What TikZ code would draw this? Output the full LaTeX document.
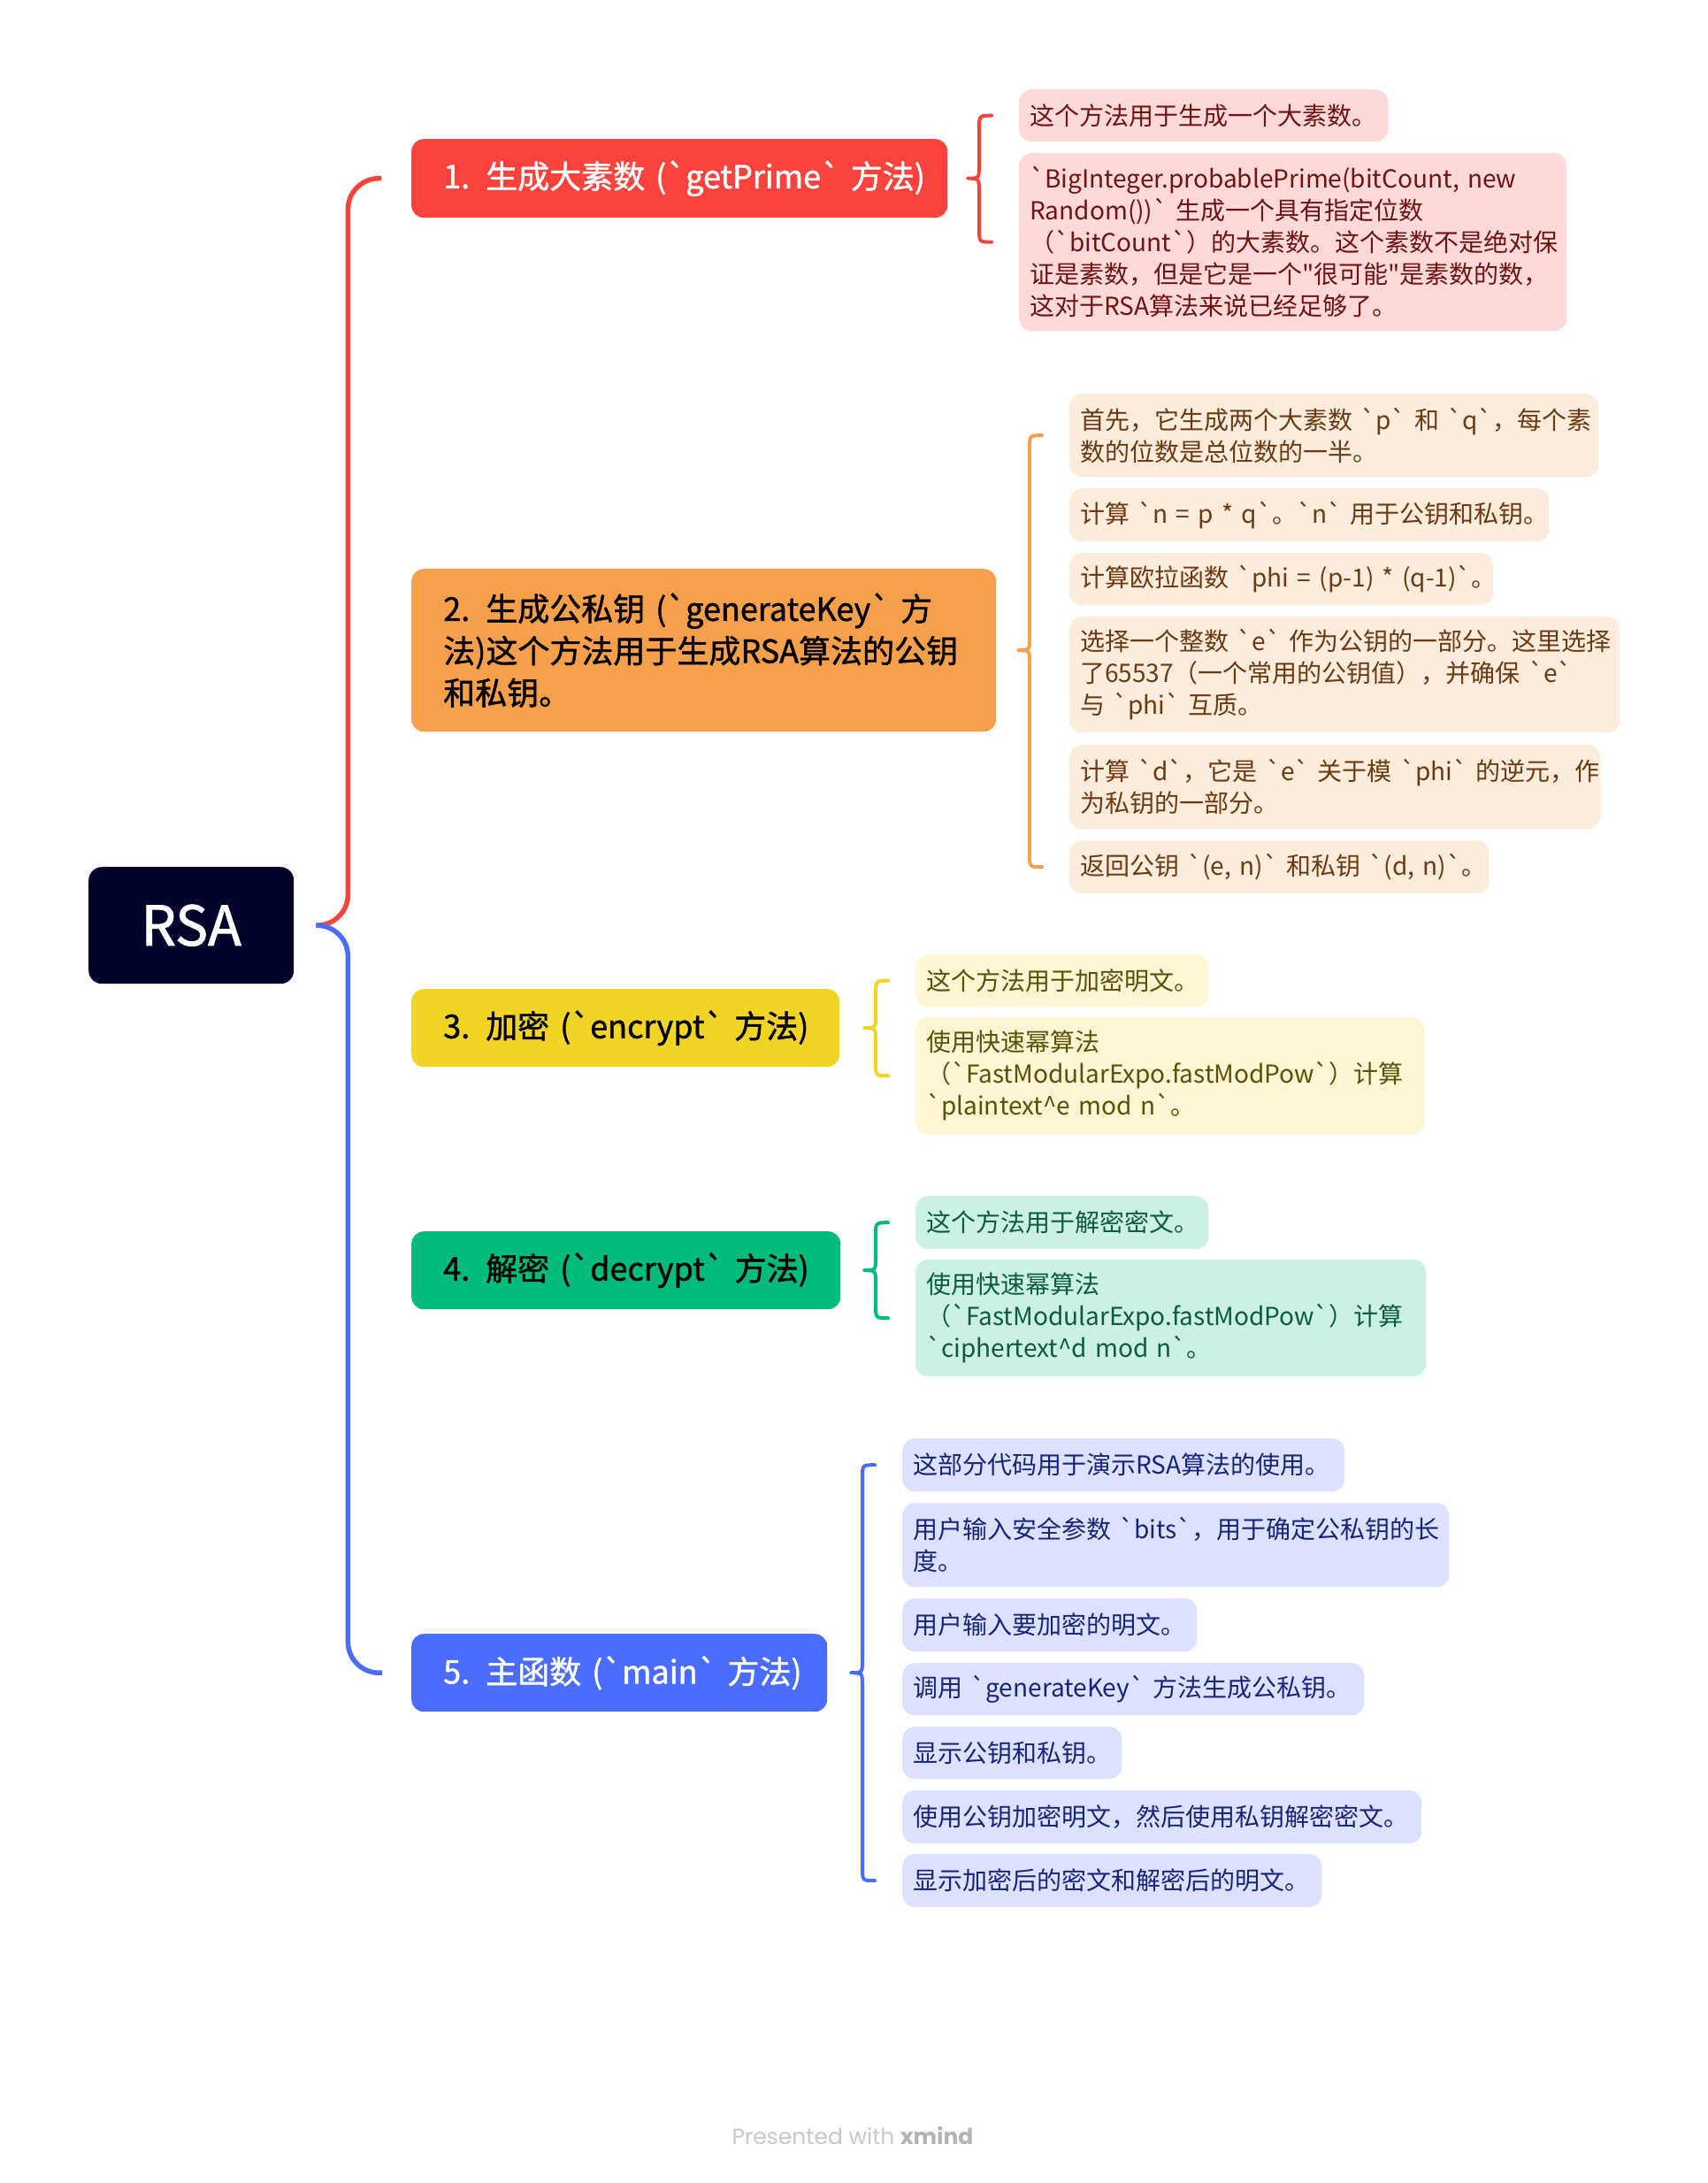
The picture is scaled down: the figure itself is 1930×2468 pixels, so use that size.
\documentclass[tikz,border=0pt]{standalone}
\usepackage{fontspec}
\usetikzlibrary{calc}
\newfontfamily\footfont{Poppins}
\font\fRoot="Noto Sans CJK SC:embolden=1.5" at 62pt
\font\fMain="Noto Sans CJK SC:embolden=1.3" at 36pt
\font\fChild="Noto Sans CJK SC" at 28pt
\fontdimen2\fMain=6.5pt
\definecolor{cRoot}{HTML}{000229}
\definecolor{cRed}{HTML}{FA433C}
\definecolor{cOrange}{HTML}{F7A04C}
\definecolor{cYellow}{HTML}{F2D424}
\definecolor{cGreen}{HTML}{00BB7A}
\definecolor{cBlue}{HTML}{4A6CFF}
\definecolor{fRedL}{HTML}{FFD9D9}
\definecolor{fOrangeL}{HTML}{FDEBDB}
\definecolor{fYellowL}{HTML}{FCF6D3}
\definecolor{fGreenL}{HTML}{CCF1E4}
\definecolor{fBlueL}{HTML}{DBE1FE}
\definecolor{tRed}{HTML}{6E1410}
\definecolor{tOrange}{HTML}{6A3A12}
\definecolor{tYellow}{HTML}{5C4F0A}
\definecolor{tGreen}{HTML}{0A5C3F}
\definecolor{tBlue}{HTML}{16247A}
\definecolor{footA}{HTML}{C9C9C9}
\definecolor{footB}{HTML}{B3B3B3}
\newcommand\mybrace[4]{%
  \draw[bracestyle,#4] let \p1=(#2.west), \p2=(#3.west), \p3=(#1.east) in
    (\x1-31pt,\y1) .. controls (\x1-45pt,\y1) .. (\x1-45pt,\y1-15pt)
    -- (\x1-45pt,\y3+15pt) .. controls (\x1-45pt,\y3) .. (\x1-58pt,\y3)
    .. controls (\x1-45pt,\y3) .. (\x1-45pt,\y3-15pt)
    -- (\x1-45pt,\y2+15pt) .. controls (\x1-45pt,\y2) .. (\x1-31pt,\y2);
}
\newcommand\crt{\char"5E\relax}
\newcommand\one[1]{\mbox{#1}}
\begin{document}
\begin{tikzpicture}[x=1pt,y=-1pt,
  rootbox/.style={fill=cRoot, rounded corners=15pt, text=white, font=\fRoot,
    minimum width=232pt, minimum height=132pt, inner sep=0pt, anchor=north west},
  mainbox/.style={rounded corners=14pt, inner xsep=36pt, inner ysep=0pt, align=left,
    anchor=north west, font={\fMain\baselineskip=47.5pt}},
  childbox/.style={rounded corners=14pt, inner xsep=12pt, inner ysep=0pt, align=left,
    anchor=north west, font={\fChild\baselineskip=36pt}},
  conn/.style={line width=5.5pt, rounded corners=35pt},
  bracestyle/.style={line width=4pt, line cap=round, line join=round},
]
\fill[white] (0,0) rectangle (1930,2468);
\useasboundingbox (0,0) rectangle (1930,2468);

% root
\node[rootbox] (root) at (100,980) {RSA};

% main topics
\node[mainbox, fill=cRed, text=white, text width=534pt, minimum height=89pt] (n1) at (465,157)
  {\one{1. 生成大素数 (`getPrime` 方法)}};
\node[mainbox, fill=cOrange, text=black, text width=589pt, minimum height=184pt] (n2) at (465,643)
  {\one{2. 生成公私钥 (`generateKey` 方}\\\one{法)这个方法用于生成RSA算法的公钥}\\\one{和私钥。}};
\node[mainbox, fill=cYellow, text=black, text width=412pt, minimum height=88pt] (n3) at (465,1118)
  {\one{3. 加密 (`encrypt` 方法)}};
\node[mainbox, fill=cGreen, text=black, text width=413pt, minimum height=88pt] (n4) at (465,1392)
  {\one{4. 解密 (`decrypt` 方法)}};
\node[mainbox, fill=cBlue, text=white, text width=398pt, minimum height=88pt] (n5) at (465,1847)
  {\one{5. 主函数 (`main` 方法)}};

% group 1
\begin{scope}[every node/.append style={childbox, fill=fRedL, text=tRed}]
\node[text width=393pt, minimum height=59pt] (c1a) at (1152,101) {\one{这个方法用于生成一个大素数。}};
\node[text width=595pt, minimum height=201pt] (c1b) at (1152,173)
  {\one{`BigInteger.probablePrime(bitCount, new}\\\one{Random())` 生成一个具有指定位数}\\\one{（`bitCount`）的大素数。这个素数不是绝对保}\\\one{证是素数，但是它是一个"很可能"是素数的数，}\\\one{这对于RSA算法来说已经足够了。}};
\end{scope}

% group 2
\begin{scope}[every node/.append style={childbox, fill=fOrangeL, text=tOrange}]
\node[text width=574pt, minimum height=94pt] (c2a) at (1209,445)
  {\one{首先，它生成两个大素数 `p` 和 `q`，每个素}\\\one{数的位数是总位数的一半。}};
\node[text width=518pt, minimum height=60pt] (c2b) at (1209,552)
  {\one{计算 `n = p * q`。`n` 用于公钥和私钥。}};
\node[text width=455pt, minimum height=59pt] (c2c) at (1209,625)
  {\one{计算欧拉函数 `phi = (p-1) * (q-1)`。}};
\node[text width=598pt, minimum height=131pt] (c2d) at (1209,697)
  {\one{选择一个整数 `e` 作为公钥的一部分。这里选择}\\\one{了65537（一个常用的公钥值），并确保 `e`}\\\one{与 `phi` 互质。}};
\node[text width=576pt, minimum height=95pt] (c2e) at (1209,842)
  {\one{计算 `d`，它是 `e` 关于模 `phi` 的逆元，作}\\\one{为私钥的一部分。}};
\node[text width=450pt, minimum height=60pt] (c2f) at (1209,950)
  {\one{返回公钥 `(e, n)` 和私钥 `(d, n)`。}};
\end{scope}

% group 3
\begin{scope}[every node/.append style={childbox, fill=fYellowL, text=tYellow}]
\node[text width=307pt, minimum height=59pt] (c3a) at (1035,1079) {\one{这个方法用于加密明文。}};
\node[text width=551pt, minimum height=132pt] (c3b) at (1035,1150)
  {\one{使用快速幂算法}\\\one{（`FastModularExpo.fastModPow`）计算}\\\one{`plaintext\crt e mod n`。}};
\end{scope}

% group 4
\begin{scope}[every node/.append style={childbox, fill=fGreenL, text=tGreen}]
\node[text width=307pt, minimum height=60pt] (c4a) at (1035,1352) {\one{这个方法用于解密密文。}};
\node[text width=553pt, minimum height=132pt] (c4b) at (1035,1424)
  {\one{使用快速幂算法}\\\one{（`FastModularExpo.fastModPow`）计算}\\\one{`ciphertext\crt d mod n`。}};
\end{scope}

% group 5
\begin{scope}[every node/.append style={childbox, fill=fBlueL, text=tBlue}]
\node[text width=476pt, minimum height=60pt] (c5a) at (1020,1626) {\one{这部分代码用于演示RSA算法的使用。}};
\node[text width=594pt, minimum height=95pt] (c5b) at (1020,1699)
  {\one{用户输入安全参数 `bits`，用于确定公私钥的长}\\\one{度。}};
\node[text width=309pt, minimum height=60pt] (c5c) at (1020,1807) {\one{用户输入要加密的明文。}};
\node[text width=498pt, minimum height=59pt] (c5d) at (1020,1880) {\one{调用 `generateKey` 方法生成公私钥。}};
\node[text width=224pt, minimum height=59pt] (c5e) at (1020,1952) {\one{显示公钥和私钥。}};
\node[text width=563pt, minimum height=60pt] (c5f) at (1020,2024) {\one{使用公钥加密明文，然后使用私钥解密密文。}};
\node[text width=450pt, minimum height=60pt] (c5g) at (1020,2096) {\one{显示加密后的密文和解密后的明文。}};
\end{scope}

% root connectors
\coordinate (rs) at ($(root.east)+(25,0)$);
\coordinate (e1) at ($(n1.west)+(-34,0)$);
\coordinate (e5) at ($(n5.west)+(-33,0)$);
\draw[conn, cRed] (rs) -- ++(36,0) |- (e1);
\draw[conn, cBlue] (rs) -- ++(36,0) |- (e5);

% braces
\mybrace{n1}{c1a}{c1b}{cRed}
\mybrace{n2}{c2a}{c2f}{cOrange}
\mybrace{n3}{c3a}{c3b}{cYellow}
\mybrace{n4}{c4a}{c4b}{cGreen}
\mybrace{n5}{c5a}{c5g}{cBlue}

% footer
\node[font=\footfont\fontsize{25}{30}\selectfont, text=footA, inner sep=0pt] (foot) at (964,2415)
  {Presented with \textcolor{footB}{\bfseries xmind}};
\end{tikzpicture}
\end{document}
